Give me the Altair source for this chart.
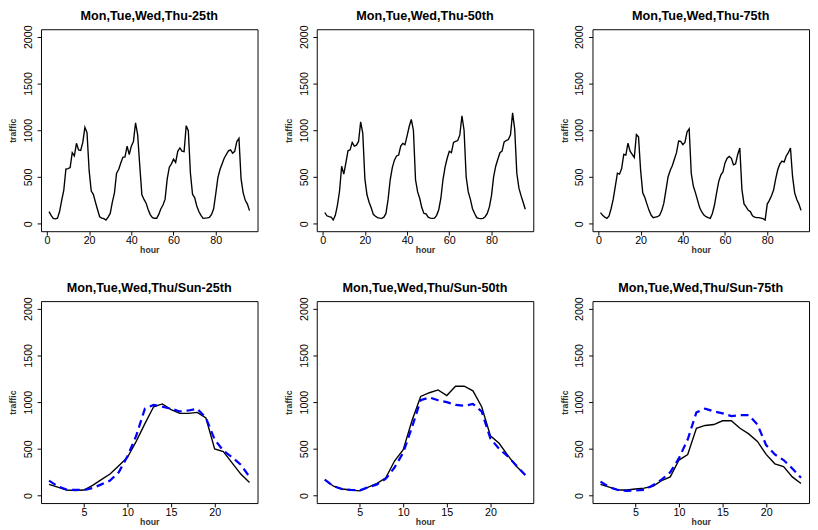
import altair as alt
import pandas as pd

hours96 = list(range(1, 97))
hours24 = list(range(1, 25))

# weekly (Mon..Thu) percentiles, 96 hourly values
week_25 = [130, 90, 58, 52, 60, 130, 250, 360, 585, 590, 600, 760, 725, 860, 790, 785, 870, 1030, 975, 570, 350, 315, 230, 150,
           75, 60, 55, 40, 70, 110, 230, 330, 540, 580, 650, 710, 715, 830, 740, 830, 880, 1080, 950, 620, 310, 260, 220, 150,
           95, 65, 58, 58, 100, 160, 200, 263, 480, 605, 640, 690, 655, 775, 810, 776, 770, 1049, 995, 540, 315, 280, 190, 130,
           90, 58, 60, 62, 68, 100, 160, 320, 490, 580, 640, 700, 740, 780, 790, 755, 775, 880, 913, 480, 330, 250, 210, 140]
week_50 = [120, 85, 75, 70, 40, 90, 200, 350, 615, 530, 650, 780, 790, 870, 830, 840, 880, 1090, 970, 480, 310, 230, 170, 100,
           80, 65, 60, 58, 70, 110, 260, 470, 600, 680, 725, 735, 830, 860, 845, 940, 1040, 1115, 1000, 470, 340, 270, 170, 110,
           105, 70, 60, 58, 60, 90, 150, 270, 470, 605, 700, 775, 760, 870, 880, 890, 950, 1155, 1000, 500, 340, 260, 160, 110,
           65, 58, 55, 58, 75, 110, 180, 300, 500, 615, 690, 760, 776, 875, 890, 900, 950, 1185, 1010, 540, 380, 300, 230, 155]
week_75 = [119, 90, 70, 58, 80, 160, 260, 400, 540, 530, 590, 742, 735, 862, 776, 742, 708, 954, 930, 570, 330, 280, 210, 143,
           90, 65, 70, 75, 90, 140, 220, 360, 500, 570, 620, 690, 760, 885, 880, 845, 870, 982, 1015, 537, 400, 330, 250, 170,
           126, 92, 75, 65, 58, 110, 200, 330, 450, 520, 554, 650, 700, 720, 700, 630, 640, 740, 810, 365, 212, 180, 143, 130,
           85, 70, 65, 65, 60, 55, 40, 210, 250, 300, 360, 480, 580, 640, 670, 660, 725, 760, 810, 503, 330, 260, 210, 143]

# daily profiles: Mon..Thu (black) vs Sun (blue dashed)
wd_25 = [120, 90, 60, 55, 60, 110, 170, 230, 320, 410, 580, 770, 950, 980, 920, 880, 880, 890, 830, 500, 470, 350, 230, 140]
sun_25 = [160, 100, 65, 60, 60, 80, 120, 160, 250, 420, 640, 930, 970, 950, 930, 900, 910, 930, 830, 600, 480, 410, 330, 200]
wd_50 = [170, 100, 70, 60, 50, 90, 130, 190, 370, 490, 800, 1060, 1100, 1130, 1070, 1170, 1170, 1120, 950, 640, 560, 430, 310, 220]
sun_50 = [170, 100, 70, 60, 55, 90, 120, 180, 300, 460, 730, 1020, 1050, 1020, 1000, 970, 960, 980, 900, 610, 500, 420, 320, 220]
wd_75 = [120, 90, 60, 60, 70, 80, 100, 160, 200, 380, 440, 720, 750, 760, 800, 800, 720, 660, 580, 440, 340, 310, 200, 130]
sun_75 = [150, 90, 60, 50, 55, 60, 110, 170, 250, 400, 600, 890, 930, 900, 880, 850, 860, 860, 760, 540, 440, 380, 290, 190]

top_titles = ["Mon,Tue,Wed,Thu-25th", "Mon,Tue,Wed,Thu-50th", "Mon,Tue,Wed,Thu-75th"]
bot_titles = ["Mon,Tue,Wed,Thu/Sun-25th", "Mon,Tue,Wed,Thu/Sun-50th", "Mon,Tue,Wed,Thu/Sun-75th"]

W, H = 223, 208
FONT = "Liberation Sans, Arial, sans-serif"

yenc = alt.Y("traffic:Q", scale=alt.Scale(domain=[-80, 2080], nice=False, zero=False),
             axis=alt.Axis(values=[0, 500, 1000, 1500, 2000], format="d", title="traffic"))


def top_panel(vals, title):
    df = pd.DataFrame({"hour": hours96, "traffic": vals})
    return alt.Chart(df, title=alt.Title(title, frame="group")).mark_line(color="black", strokeWidth=1.4).encode(
        x=alt.X("hour:Q", scale=alt.Scale(domain=[-2.8, 99.8], nice=False, zero=False),
                axis=alt.Axis(values=[0, 20, 40, 60, 80], format="d", title="hour")),
        y=yenc,
    ).properties(width=W, height=H)


def bottom_panel(wd, sun, title):
    df = pd.DataFrame({"hour": hours24 + hours24, "traffic": wd + sun,
                       "series": ["weekday"] * 24 + ["sunday"] * 24})
    xenc = alt.X("hour:Q", scale=alt.Scale(domain=[0.08, 24.92], nice=False, zero=False),
                 axis=alt.Axis(values=[5, 10, 15, 20], format="d", title="hour"))
    base = alt.Chart(df)
    black = base.transform_filter(alt.datum.series == "weekday").mark_line(
        color="black", strokeWidth=1.4).encode(x=xenc, y=yenc)
    blue = base.transform_filter(alt.datum.series == "sunday").mark_line(
        color="#0000ff", strokeWidth=2.3, strokeDash=[8, 5]).encode(x=xenc, y=yenc)
    return alt.layer(black, blue, title=alt.Title(title, frame="group")).properties(width=W, height=H)


top = alt.hconcat(*[top_panel(v, t) for v, t in zip([week_25, week_50, week_75], top_titles)], spacing=26)
bottom = alt.hconcat(*[bottom_panel(a, b, t) for a, b, t in zip([wd_25, wd_50, wd_75], [sun_25, sun_50, sun_75], bot_titles)], spacing=26)

chart = alt.vconcat(top, bottom, spacing=26).properties(
    padding={"top": -7, "left": 0, "right": 0, "bottom": 0}
).configure_view(
    stroke="black", strokeWidth=1
).configure_axis(
    domain=False, grid=False, tickColor="black", tickSize=4, labelFont=FONT, labelFontSize=11,
    labelColor="black", titleFont=FONT, titleFontSize=9, titleFontWeight="bold", titleColor="#333333",
    labelOverlap=False, labelFlush=False
).configure_axisY(
    labelAngle=270, labelAlign="center", labelBaseline="bottom", labelPadding=4, titlePadding=5
).configure_axisX(
    labelPadding=0, titlePadding=0
).configure_title(
    font=FONT, fontSize=13, fontWeight="bold", offset=2, anchor="middle", color="black"
)

chart.save("out.html", embed_options={"renderer": "svg", "actions": False})
